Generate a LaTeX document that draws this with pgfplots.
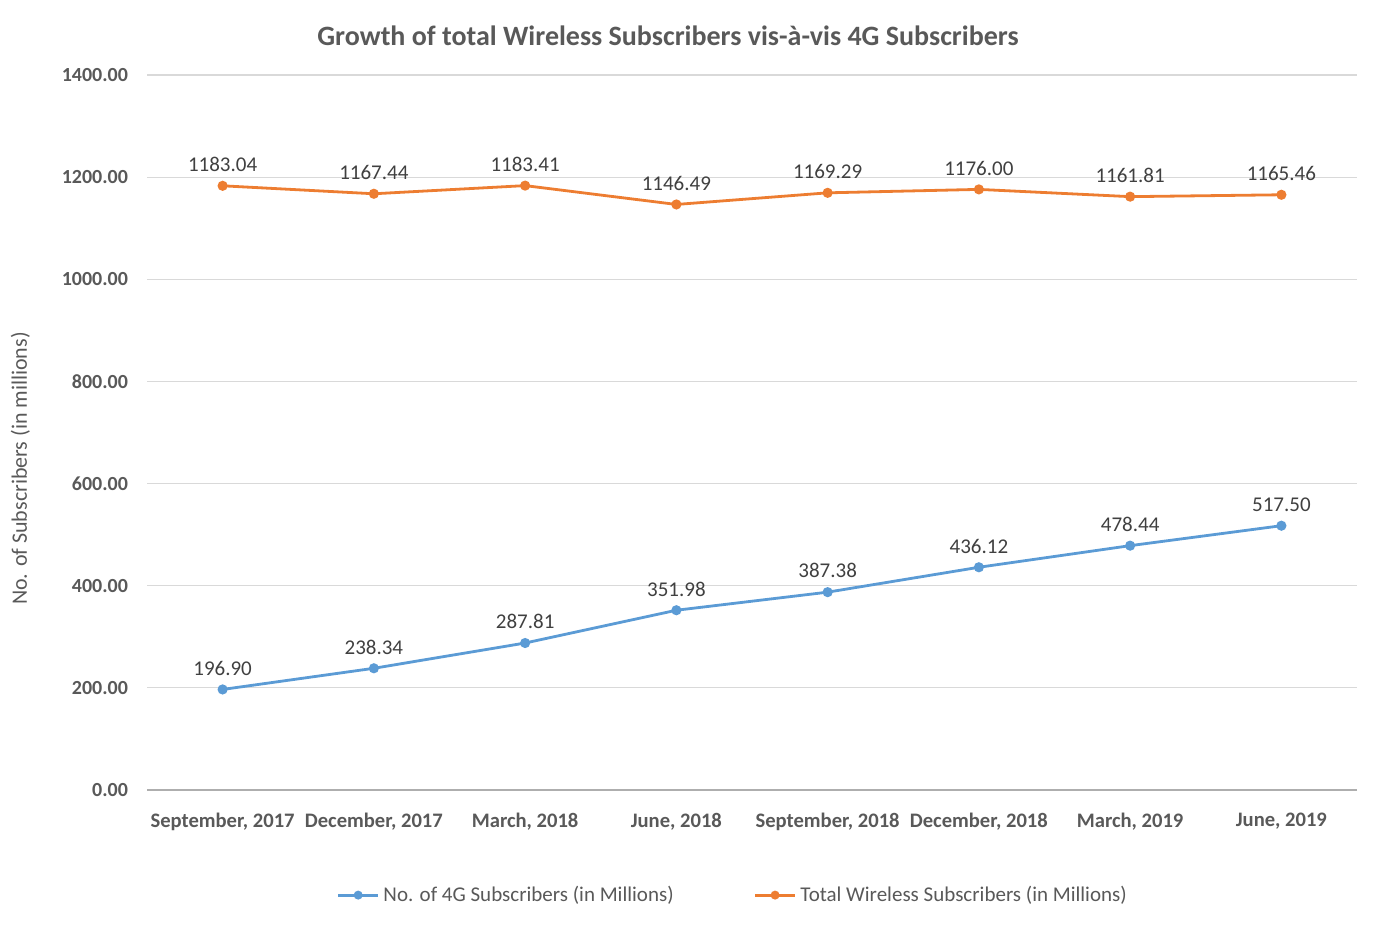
\documentclass[border=0pt]{standalone}
\usepackage{pgfplots}
\pgfplotsset{compat=1.18}
\usepackage{fontspec}
\setmainfont{Carlito}
\definecolor{cblue}{HTML}{5B9BD5}
\definecolor{corange}{HTML}{ED7D31}
\definecolor{tgray}{HTML}{595959}
\definecolor{lgray}{HTML}{404040}
\definecolor{ggray}{HTML}{D9D9D9}
\begin{document}
\begin{tikzpicture}
\begin{axis}[
  scale only axis,
  width=605pt, height=357.5pt,
  xmin=-0.5, xmax=7.5,
  ymin=0, ymax=1400,
  ytick={200,400,...,1400},
  xtick={0,...,7},
  xticklabels={{September, 2017},{December, 2017},{March, 2018},{June, 2018},{September, 2018},{December, 2018},{March, 2019},{June, 2019}},
  /pgf/number format/assume math mode=true,
  yticklabel={\pgfmathprintnumber[fixed,fixed zerofill,precision=2,1000 sep={}]{\tick}},
  tick label style={text=tgray},
  xticklabel style={font=\fontsize{10.3}{12}\selectfont\bfseries, yshift=-8pt},
  yticklabel style={font=\fontsize{10}{12}\selectfont\bfseries, xshift=-6pt},
  ymajorgrids, grid style={ggray, line width=0.6pt},
  axis line style={draw=none},
  extra y ticks={0}, extra y tick style={grid style={draw=ggray!80!black, line width=0.6pt}},
  major tick length=0pt,
  title={Growth of total Wireless Subscribers vis-à-vis 4G Subscribers},
  title style={font=\fontsize{14}{16}\selectfont\bfseries, text=tgray, yshift=5pt, xshift=-42pt},
  ylabel={No. of Subscribers (in millions)},
  ylabel style={font=\fontsize{11}{13}\selectfont, text=tgray, yshift=9pt, xshift=-18pt},
  legend style={at={(0.485,-0.147)}, anchor=center, draw=none, legend columns=2,
    font=\fontsize{10.5}{12}\selectfont, text=tgray,
    /tikz/every even column/.append style={column sep=38pt}},
  legend image code/.code={\draw[#1, line width=1.4pt] (0cm,0cm) -- (0.7cm,0cm); \filldraw[#1] (0.35cm,0cm) circle (1.5pt);},
  nodes near coords={\pgfmathprintnumber[fixed,fixed zerofill,precision=2,1000 sep={}]{\pgfplotspointmeta}},
  nodes near coords style={font=\fontsize{10.5}{12}\selectfont, text=lgray, anchor=south, yshift=3pt},
  clip=false,
]
\addplot[cblue, line width=1.4pt, mark=*, mark size=1.8pt] coordinates {
(0,196.90) (1,238.34) (2,287.81) (3,351.98) (4,387.38) (5,436.12) (6,478.44) (7,517.50)};
\addlegendentry{No. of 4G Subscribers (in Millions)}
\addplot[corange, line width=1.4pt, mark=*, mark size=1.8pt] coordinates {
(0,1183.04) (1,1167.44) (2,1183.41) (3,1146.49) (4,1169.29) (5,1176.00) (6,1161.81) (7,1165.46)};
\addlegendentry{Total Wireless Subscribers (in Millions)}
\end{axis}
\path ([xshift=-73.5pt,yshift=-78.5pt]current axis.south west) rectangle ([xshift=10pt,yshift=37.5pt]current axis.north east);
\end{tikzpicture}
\end{document}
